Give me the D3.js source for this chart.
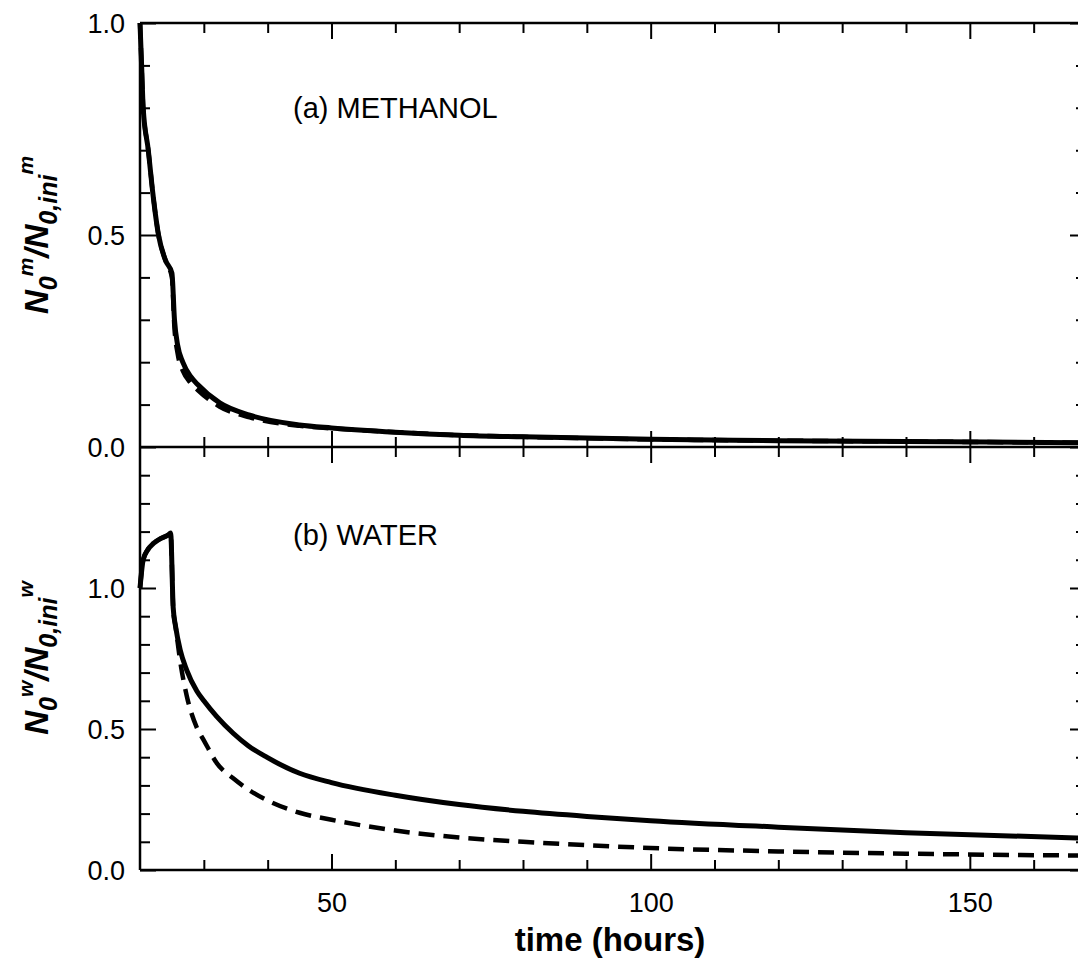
<!DOCTYPE html>
<html>
<head>
<meta charset="utf-8">
<script src="https://cdn.jsdelivr.net/npm/d3@7"></script>
<style>
  html, body { margin: 0; padding: 0; background: #fff; }
  svg { display: block; font-family: "Liberation Sans", Arial, sans-serif; }
</style>
</head>
<body>
<svg id="chart" width="1078" height="961"></svg>
<script>
// ---------- data ----------
const timeMethanol = [20, 20.25, 20.5, 21.3, 22, 22.9, 24, 25, 25.4, 25.9, 26.7, 28, 29, 32.5, 37.2, 45, 50, 60, 70, 80, 100, 120, 140, 168.2];
const methanolSolid  = [1.0, 0.90, 0.80, 0.70, 0.60, 0.50, 0.44, 0.41, 0.30, 0.24, 0.20, 0.165, 0.148, 0.104, 0.075, 0.052, 0.045, 0.035, 0.028, 0.024, 0.018, 0.015, 0.013, 0.010];
const methanolDashed = [1.0, 0.90, 0.80, 0.70, 0.60, 0.50, 0.44, 0.40, 0.28, 0.22, 0.18, 0.15, 0.135, 0.095, 0.070, 0.050, 0.044, 0.035, 0.028, 0.024, 0.018, 0.015, 0.013, 0.010];

const timeWater = [20, 20.5, 21.2, 22.1, 23.2, 24.4, 24.8, 25.2, 25.6, 26.3, 27.3, 28.9, 30, 32, 34.6, 37, 39.85, 45, 50, 60, 70, 80, 90, 100, 120, 140, 168.2];
const waterSolid  = [1.0, 1.10, 1.135, 1.158, 1.175, 1.188, 1.195, 0.93, 0.86, 0.78, 0.71, 0.635, 0.60, 0.545, 0.485, 0.44, 0.40, 0.343, 0.31, 0.265, 0.232, 0.208, 0.19, 0.175, 0.152, 0.132, 0.113];
const waterDashed = [1.0, 1.10, 1.135, 1.158, 1.175, 1.188, 1.195, 0.93, 0.86, 0.74, 0.62, 0.505, 0.46, 0.38, 0.325, 0.285, 0.248, 0.203, 0.178, 0.14, 0.115, 0.10, 0.088, 0.078, 0.066, 0.058, 0.051];

const xMajorTicks = [50, 100, 150];
const xMinorTicks = [30, 40, 60, 70, 80, 90, 110, 120, 130, 140, 160];
const yTopMajor = [0, 0.5, 1.0];
const yTopMinor = [0.1, 0.2, 0.3, 0.4, 0.6, 0.7, 0.8, 0.9];
const yBotMajor = [0, 0.5, 1.0];
const yBotMinor = [0.1, 0.2, 0.3, 0.4, 0.6, 0.7, 0.8, 0.9, 1.1, 1.2, 1.3, 1.4];
const panelLabels = ["(a) METHANOL", "(b) WATER"];
const xTitle = "time (hours)";

// ---------- layout ----------
const L = 140, R = 1086, T = 23, M = 447, B = 870;
const svg = d3.select("#chart");
const x = d3.scaleLinear().domain([20, 168.2]).range([L, R]);
const yTop = d3.scaleLinear().domain([0, 1]).range([M, T]);
const yBot = d3.scaleLinear().domain([0, 1.5]).range([B, M]);

const fmt = d3.format(".1f");
const majorLen = 16, minorLen = 10;

function styleAxis(g) {
  g.select(".domain").remove();
  g.selectAll(".tick line").attr("stroke", "#000").attr("stroke-width", 2);
  g.selectAll(".tick text").attr("fill", "#000").attr("font-size", 27)
    .attr("font-family", "'Liberation Sans', Arial, sans-serif");
}

function xAxisAt(y, dir, labels) {
  const gMaj = svg.append("g").attr("transform", `translate(0,${y})`)
    .call(d3.axisBottom(x).tickValues(xMajorTicks).tickSize(dir * majorLen).tickPadding(23)
      .tickFormat(labels ? d3.format("d") : ""));
  styleAxis(gMaj);
  if (labels) gMaj.selectAll(".tick text").attr("y", 23).attr("dy", "0.71em");
  const gMin = svg.append("g").attr("transform", `translate(0,${y})`)
    .call(d3.axisBottom(x).tickValues(xMinorTicks).tickSize(dir * minorLen).tickFormat(""));
  styleAxis(gMin);
}
xAxisAt(T, 1, false);
xAxisAt(M, -1, false);
xAxisAt(M, 1, false);
xAxisAt(B, -1, true);

function yAxis(scale, major, minor, labels, side) {
  const xpos = side === "left" ? L : R;
  const sign = side === "left" ? -1 : 1;
  const gMaj = svg.append("g").attr("transform", `translate(${xpos},0)`)
    .call(d3.axisLeft(scale).tickValues(major).tickSize(sign * majorLen).tickPadding(15)
      .tickFormat(labels ? fmt : ""));
  styleAxis(gMaj);
  if (labels) gMaj.selectAll(".tick text").attr("x", -15).attr("text-anchor", "end").attr("dy", "0.35em");
  const gMin = svg.append("g").attr("transform", `translate(${xpos},0)`)
    .call(d3.axisLeft(scale).tickValues(minor).tickSize(sign * minorLen).tickFormat(""));
  styleAxis(gMin);
}
yAxis(yTop, yTopMajor, yTopMinor, true, "left");
yAxis(yTop, yTopMajor, yTopMinor, false, "right");
yAxis(yBot, yBotMajor, yBotMinor, true, "left");
yAxis(yBot, yBotMajor, yBotMinor, false, "right");

const frame = svg.append("g").attr("stroke", "#000").attr("stroke-width", 2.5).attr("fill", "none");
frame.append("line").attr("x1", L).attr("x2", L).attr("y1", T).attr("y2", B);
frame.append("line").attr("x1", R).attr("x2", R).attr("y1", T).attr("y2", B);
frame.append("line").attr("x1", L).attr("x2", R).attr("y1", T).attr("y2", T);
frame.append("line").attr("x1", L).attr("x2", R).attr("y1", M).attr("y2", M);
frame.append("line").attr("x1", L).attr("x2", R).attr("y1", B).attr("y2", B);

function drawCurve(times, vals, yScale, dashed) {
  const line = d3.line().x((d, i) => x(times[i])).y(d => yScale(d)).curve(d3.curveMonotoneX);
  svg.append("path").datum(vals)
    .attr("d", line)
    .attr("fill", "none")
    .attr("stroke", "#000")
    .attr("stroke-width", dashed ? 4.5 : 5)
    .attr("stroke-linejoin", "round")
    .attr("stroke-dasharray", dashed ? "16,9" : null);
}
drawCurve(timeMethanol, methanolDashed, yTop, true);
drawCurve(timeMethanol, methanolSolid, yTop, false);
drawCurve(timeWater, waterDashed, yBot, true);
drawCurve(timeWater, waterSolid, yBot, false);

svg.append("text").attr("x", 293).attr("y", 118).attr("font-size", 29).attr("fill", "#000").text(panelLabels[0]);
svg.append("text").attr("x", 293).attr("y", 545).attr("font-size", 29).attr("fill", "#000").text(panelLabels[1]);

svg.append("text").attr("x", (L + R) / 2 - 3).attr("y", 951).attr("text-anchor", "middle")
  .attr("font-size", 33).attr("font-weight", "bold").attr("fill", "#000").text(xTitle);

function yTitle(cy, sup) {
  const t = svg.append("text")
    .attr("transform", `translate(48,${cy}) rotate(-90)`)
    .attr("text-anchor", "middle")
    .attr("font-weight", "bold").attr("font-style", "italic").attr("fill", "#000");
  t.append("tspan").attr("font-size", 33).text("N");
  t.append("tspan").attr("font-size", 25).attr("dy", 9).text("0");
  t.append("tspan").attr("font-size", 21).attr("dy", -24).text(sup);
  t.append("tspan").attr("font-size", 33).attr("dy", 15).text("/");
  t.append("tspan").attr("font-size", 33).text("N");
  t.append("tspan").attr("font-size", 25).attr("dy", 9).text("0,ini");
  t.append("tspan").attr("font-size", 21).attr("dy", -24).text(sup);
}
yTitle(235, "m");
yTitle(658, "w");
</script>
</body>
</html>
